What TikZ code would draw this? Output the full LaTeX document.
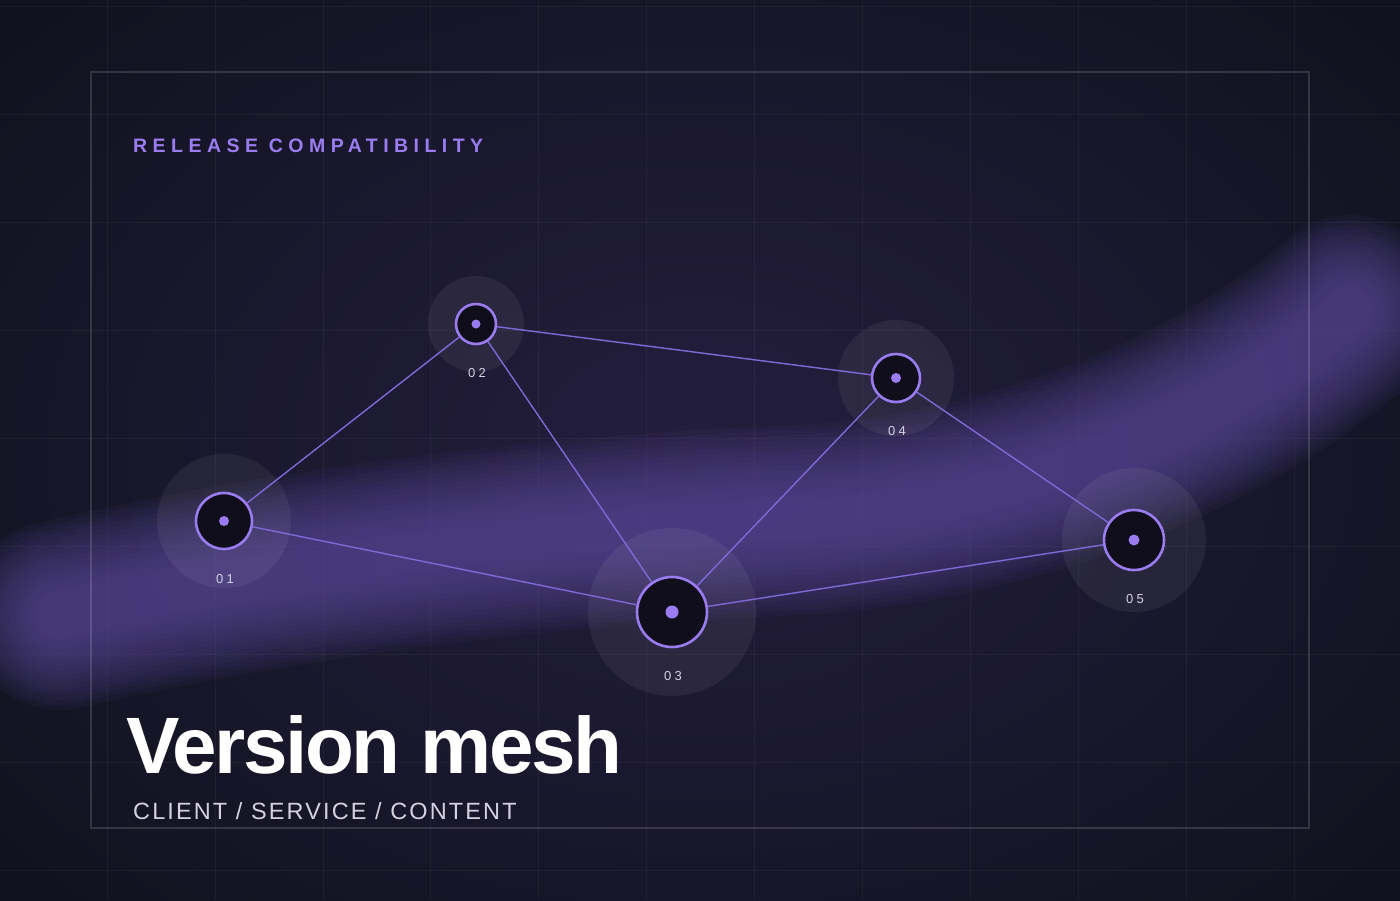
\documentclass[tikz,border=0pt]{standalone}
\usepackage{fontspec}
\setmainfont{Liberation Sans}
\newfontfamily\spacedA[LetterSpace=28]{Liberation Sans}
\newfontfamily\spacedB[LetterSpace=9]{Liberation Sans}
\newfontfamily\spacedC[LetterSpace=25]{Liberation Sans}
\definecolor{bgA}{HTML}{0F111C}
\definecolor{bgB}{HTML}{241E3E}
\definecolor{band}{HTML}{5E4EA0}
\definecolor{accent}{HTML}{9B7CF0}
\definecolor{edge}{HTML}{8069D6}
\definecolor{core}{HTML}{0F0E1A}
\definecolor{sub}{HTML}{D4D2E0}
\tikzset{
  ring/.style={circle,draw=accent,line width=2.6pt,fill=core,inner sep=0pt},
  halo/.style={circle,fill=white,fill opacity=0.06,inner sep=0pt},
  dot/.style={circle,fill=accent,inner sep=0pt,minimum size=10pt},
  lbl/.style={text=sub,font=\spacedC\fontsize{13}{13}\selectfont},
  link/.style={draw=edge,line width=1.4pt}
}
\begin{document}
\begin{tikzpicture}[x=1pt,y=-1pt]
\useasboundingbox (0,0) rectangle (1400,900);
\fill[bgA] (0,0) rectangle (1400,900);
\shade[inner color=bgB,outer color=bgA] (-300,-250) rectangle (1700,1150);
% grid
\foreach \x in {107,215,323,430,538,646,754,862,970,1078,1186,1294}
  \draw[white,opacity=0.045,line width=1pt] (\x,0) -- (\x,900);
\foreach \y in {6,114,222,330,438,546,654,762,870}
  \draw[white,opacity=0.045,line width=1pt] (0,\y) -- (1400,\y);
% band (fake blur)
\foreach \w in {190,180,...,40} {
  \draw[band,line width=\w pt,line cap=round,opacity=0.075]
    (60,615) .. controls (300,560) and (550,530) .. (800,520)
    .. controls (1050,505) and (1250,400) .. (1350,310);
}
% frame
\draw[white,opacity=0.14,line width=1.2pt] (91,72) rectangle (1309,828);
% halos
\node[halo,minimum size=134pt] at (224,521) {};
\node[halo,minimum size=96pt] at (476,324) {};
\node[halo,minimum size=168pt] at (672,612) {};
\node[halo,minimum size=116pt] at (896,378) {};
\node[halo,minimum size=144pt] at (1134,540) {};
% nodes
\node[ring,minimum size=56pt] (n1) at (224,521) {};
\node[ring,minimum size=40pt] (n2) at (476,324) {};
\node[ring,minimum size=70pt] (n3) at (672,612) {};
\node[ring,minimum size=48pt] (n4) at (896,378) {};
\node[ring,minimum size=60pt] (n5) at (1134,540) {};
\path[link] (n1) -- (n2);
\path[link] (n2) -- (n4);
\path[link] (n2) -- (n3);
\path[link] (n1) -- (n3);
\path[link] (n3) -- (n4);
\path[link] (n4) -- (n5);
\path[link] (n3) -- (n5);
\node[dot] (d1) at (n1) {};
\node[dot,minimum size=9pt] (d2) at (n2) {};
\node[dot,minimum size=13pt] (d3) at (n3) {};
\node[dot,minimum size=10pt] (d4) at (n4) {};
\node[dot,minimum size=11pt] (d5) at (n5) {};
\node[lbl] (l1) at (225,579) {01};
\node[lbl] (l2) at (477,373) {02};
\node[lbl] (l3) at (673,676) {03};
\node[lbl] (l4) at (897,431) {04};
\node[lbl] (l5) at (1135,599) {05};
% texts
\node[anchor=west,text=accent,font=\spacedA\bfseries\fontsize{19.5}{20}\selectfont,inner sep=0pt] (title) at (133,146) {RELEASE COMPATIBILITY};
\node[anchor=base west,text=white,font=\bfseries\fontsize{80}{80}\selectfont,inner sep=0pt] (big) at (126,773) {\addfontfeature{LetterSpace=-3}Version mesh};
\node[anchor=west,text=sub,font=\spacedB\fontsize{23.5}{24}\selectfont,inner sep=0pt] (subt) at (133,811) {CLIENT / SERVICE / CONTENT};
\end{tikzpicture}
\end{document}
